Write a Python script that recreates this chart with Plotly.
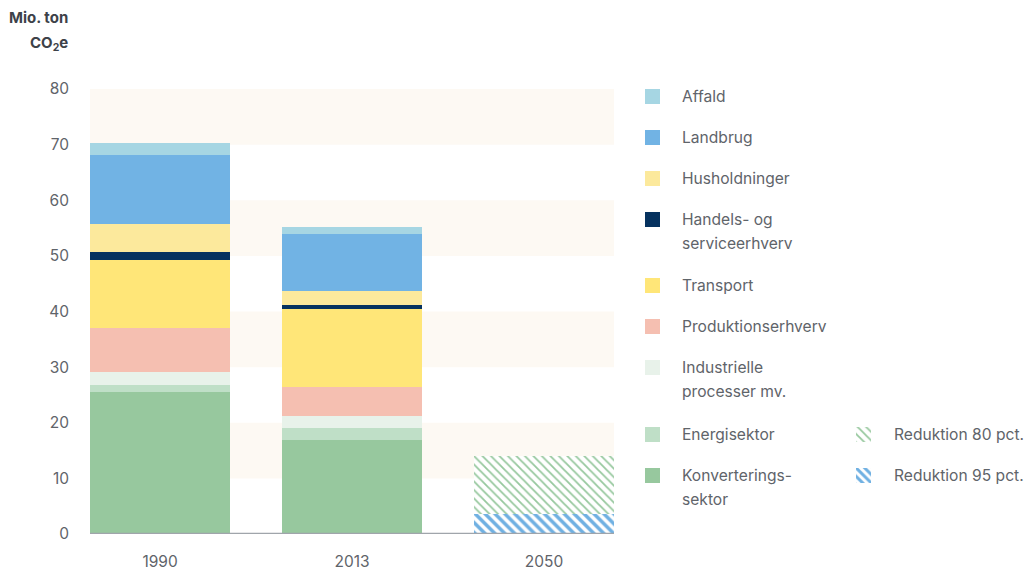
import plotly.graph_objects as go

# ---------------- data ----------------
years = ["1990", "2013", "2050"]
sectors = ["Konverterings-sektor", "Energisektor", "Industrielle processer mv.",
           "Produktionserhverv", "Transport", "Handels- og serviceerhverv",
           "Husholdninger", "Landbrug", "Affald"]
values_1990 = [25.5, 1.3, 2.3, 7.9, 12.3, 1.4, 5.0, 12.4, 2.2]
values_2013 = [16.9, 2.2, 2.1, 5.2, 14.0, 0.8, 2.5, 10.2, 1.3]
reduction_labels = ["Reduktion 80 pct.", "Reduktion 95 pct."]
reduction_2050 = [14.0, 3.6]
y_ticks = [0, 10, 20, 30, 40, 50, 60, 70, 80]

# ---------------- style ----------------
sector_colors = ["#97c89e", "#bfdfc7", "#e8f2ea", "#f5bfb1", "#ffe678",
                 "#06325f", "#fce99c", "#71b3e4", "#a6d6e3"]
red_colors = ["#97c89e", "#6fb0e2"]
band_color = "#fdf9f3"
text_color = "#5f646a"
FONT = "Inter, Roboto, sans-serif"

W, H = 1025, 569
ML = 90
MT = 89
MB = H - 534
MR = 0
PW = W - ML - MR
PH = H - MT - MB
PLOT_RIGHT = 614


def px_x(x):  # reference pixel -> paper
    return (x - ML) / PW


def px_y(y):
    return (H - MB - y) / PH


fig = go.Figure()

# stacked sector bars
for name, v90, v13, col in zip(sectors, values_1990, values_2013, sector_colors):
    fig.add_trace(go.Bar(
        x=years, y=[v90, v13, 0], name=name, marker_color=col,
        marker_line_width=0, width=0.73, showlegend=False,
        xaxis="x", yaxis="y"))

# 2050 reduction targets (overlay, base 0)
fig.add_trace(go.Bar(
    x=[years[2]], y=[reduction_2050[0]], base=[0], name=reduction_labels[0],
    width=0.73, showlegend=False, marker_line_width=0,
    marker=dict(color="white", pattern=dict(shape="\\", fgcolor=red_colors[0],
                                            bgcolor="white", size=6, solidity=0.3,
                                            fillmode="replace"))))
fig.add_trace(go.Bar(
    x=[years[2]], y=[reduction_2050[1]], base=[0], name=reduction_labels[1],
    width=0.73, showlegend=False, marker_line_width=0,
    marker=dict(color="white", pattern=dict(shape="\\", fgcolor=red_colors[1],
                                            bgcolor="white", size=7, solidity=0.5,
                                            fillmode="replace"))))

# ---------------- legend swatches (aux axes in pixel units) ----------------
legend_left = [  # (label lines, y px of first line, color index)
    (["Affald"], 96, 8),
    (["Landbrug"], 137, 7),
    (["Husholdninger"], 178, 6),
    (["Handels- og", "serviceerhverv"], 219, 5),
    (["Transport"], 285, 4),
    (["Produktionserhverv"], 326, 3),
    (["Industrielle", "processer mv."], 367, 2),
    (["Energisektor"], 434, 1),
    (["Konverterings-", "sektor"], 475, 0),
]
LEG_FONT = dict(family=FONT, size=15.6, color=text_color)
for lines, ypx, ci in legend_left:
    fig.add_trace(go.Bar(x=[652.5], y=[15], base=[ypx - 7.5], width=[15],
                         marker_color=sector_colors[ci], marker_line_width=0,
                         showlegend=False, hoverinfo="skip",
                         xaxis="x2", yaxis="y2"))
    for i, ln in enumerate(lines):
        fig.add_annotation(x=px_x(682), y=px_y(ypx + 24 * i), xref="paper", yref="paper",
                           text=ln, showarrow=False, xanchor="left", yanchor="middle",
                           xshift=-2, font=LEG_FONT)

legend_right = [(reduction_labels[0], 434, 0, 6, 0.3), (reduction_labels[1], 475, 1, 6, 0.5)]
for label, ypx, ci, sz, sol in legend_right:
    fig.add_trace(go.Bar(x=[863.5], y=[15], base=[ypx - 7.5], width=[15],
                         marker=dict(color="white", line_width=0,
                                     pattern=dict(shape="\\", fgcolor=red_colors[ci],
                                                  bgcolor="white", size=sz, solidity=sol,
                                                  fillmode="replace")),
                         showlegend=False, hoverinfo="skip",
                         xaxis="x2", yaxis="y2"))
    fig.add_annotation(x=px_x(894), y=px_y(ypx), xref="paper", yref="paper",
                       text=label, showarrow=False, xanchor="left", yanchor="middle",
                       xshift=-2, font=LEG_FONT)

# background bands
shapes = []
for lo in [10, 30, 50, 70]:
    shapes.append(dict(type="rect", xref="x domain", yref="y", x0=0, x1=1, y0=lo, y1=lo + 10,
                       fillcolor=band_color, line_width=0, layer="below"))
shapes.append(dict(type="line", xref="x domain", yref="y", x0=0, x1=1, y0=0, y1=0,
                   line=dict(color="#a0a5ab", width=2.5), layer="above"))

# y-axis title
TITLE_FONT = dict(family=FONT, size=15, color="#3d4249")
fig.add_annotation(x=px_x(68), y=px_y(18), xref="paper", yref="paper",
                   text="<b>Mio. ton</b>", showarrow=False, xanchor="right", yanchor="middle",
                   xshift=2, font=TITLE_FONT)
fig.add_annotation(x=px_x(68), y=px_y(43), xref="paper", yref="paper",
                   text="<b>CO<sub>2</sub>e</b>", showarrow=False, xanchor="right", yanchor="middle",
                   xshift=2, font=TITLE_FONT)

fig.update_layout(
    width=W, height=H,
    margin=dict(l=ML, r=MR, t=MT, b=MB, autoexpand=False),
    paper_bgcolor="white", plot_bgcolor="rgba(0,0,0,0)",
    barmode="stack", bargap=0,
    font=dict(family=FONT, color=text_color),
    shapes=shapes,
    xaxis=dict(domain=[0, (PLOT_RIGHT - ML) / PW], type="category", range=[-0.365, 2.365],
               showgrid=False, zeroline=False, showline=False, ticks="",
               tickfont=dict(family=FONT, size=15.5, color=text_color),
               ticklabelstandoff=16, fixedrange=True),
    yaxis=dict(domain=[0, 1], range=[0, 80], tickvals=y_ticks, showgrid=False,
               zeroline=False, showline=False, ticks="",
               tickfont=dict(family=FONT, size=15.5, color=text_color),
               ticklabelstandoff=20, fixedrange=True),
    xaxis2=dict(domain=[px_x(630), 1], range=[630, 1025], visible=False,
                anchor="y2", fixedrange=True),
    yaxis2=dict(domain=[0, 1], range=[534, 89], visible=False,
                anchor="x2", fixedrange=True),
)

fig.write_html("out.html", config={"displayModeBar": False},
               post_script="document.body.style.margin='0';document.body.style.overflow='hidden';")
